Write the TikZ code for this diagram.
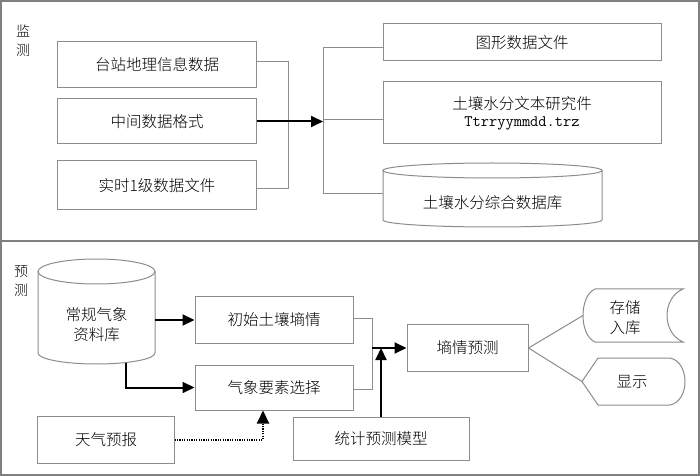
\documentclass[tikz,border=0pt]{standalone}
\usepackage{fontspec}
\setmainfont{Noto Sans CJK SC}[UprightFont=* Light]
\usetikzlibrary{arrows.meta,calc}
\definecolor{boxgray}{RGB}{140,140,140}
\definecolor{framegray}{RGB}{128,128,128}
\newcommand\myfs{\fontsize{15.5bp}{20bp}\selectfont}
\begin{document}
\begin{tikzpicture}[x=1bp,y=-1bp,
  box/.style={draw=boxgray,line width=1bp,inner sep=0pt,align=center,font=\myfs},
  plain/.style={inner sep=0pt,align=center,font=\myfs},
  lab/.style={inner sep=0pt,align=center,font=\fontsize{14bp}{19bp}\selectfont},
  thin/.style={draw=boxgray,line width=1bp},
  arr/.style={draw=black,line width=2bp,-{Triangle[length=12bp,width=11bp]}},
  dotarr/.style={draw=black,line width=2bp,dash pattern=on 1.2bp off 1.2bp,-{Triangle[length=13bp,width=12bp]}}]
\fill[white] (0,0) rectangle (700,476);
\useasboundingbox (0,0) rectangle (700,476);
% frame
\draw[framegray,line width=1.5bp] (1,1) rectangle (699,475);
\draw[framegray,line width=1.5bp] (1,241) -- (699,241);
\node[lab] (lm) at (23,41) {监\\测};
\node[lab] (lp) at (21,281) {预\\测};
% top panel
\node[box,minimum width=198bp,minimum height=46bp] (n1) at (157,65) {台站地理信息数据};
\node[box,minimum width=198bp,minimum height=45bp] (n2) at (157,121.5) {中间数据格式};
\node[box,minimum width=198bp,minimum height=49bp] (n3) at (157,185.5) {实时1级数据文件};
\node[box,minimum width=278bp,minimum height=37bp] (r1) at (522,42.5) {图形数据文件};
\node[box,minimum width=278bp,minimum height=62bp] (r2) at (522,113) {土壤水分文本研究件\\[-3bp]{\ttfamily\fontsize{16bp}{17bp}\selectfont Ttrryymmdd.trz}};
\node[minimum width=219bp,minimum height=64bp,inner sep=0pt] (r3) at (492.5,195) {};
\node[plain] (r3t) at (492.5,203) {土壤水分综合数据库};
\draw[thin] (492.5,170.5) ellipse[x radius=109.5,y radius=7.5];
\draw[thin] (383,170.5) -- (383,220) arc[start angle=180,end angle=0,x radius=109.5,y radius=7] -- (602,170.5);
\coordinate (k1) at (288,62);
\coordinate (k2) at (288,189);
\draw[thin] (n1.east|-k1) -- (k1) -- (k2) -- (n3.east|-k2);
\coordinate (j1) at (323,48);
\coordinate (j2) at (323,120);
\coordinate (j3) at (323,194);
\draw[thin] (j1) -- (j3);
\draw[thin] (j1) -- (r1.west|-j1);
\draw[thin] (j2) -- (r2.west|-j2);
\draw[thin] (j3) -- (r3.west|-j3);
\draw[arr] (n2.east) -- (j2|-n2.east);
% bottom panel
\node[minimum width=117bp,minimum height=105bp,inner sep=0pt] (c1) at (96.5,311.5) {};
\node[plain] (c1t) at (96.5,325) {常规气象\\资料库};
\draw[thin] (96.5,271.5) ellipse[x radius=58.5,y radius=12.5];
\draw[thin] (38,271.5) -- (38,353) arc[start angle=180,end angle=0,x radius=58.5,y radius=11] -- (155,271.5);
\node[box,minimum width=158bp,minimum height=46bp] (b1) at (274,320) {初始土壤墒情};
\node[box,minimum width=158bp,minimum height=45bp] (b2) at (274,387.5) {气象要素选择};
\node[box,minimum width=136bp,minimum height=47bp] (t1) at (106,439.5) {天气预报};
\node[box,minimum width=176bp,minimum height=43bp] (s1) at (381,438.5) {统计预测模型};
\node[box,minimum width=121bp,minimum height=46bp] (p1) at (467.5,348) {墒情预测};
\draw[arr] (c1.east|-b1.west) -- (b1.west);
\draw[arr] ($(c1.south)+(29.5,-1.5)$) |- (b2.west);
\draw[dotarr] (t1.east) -| ($(b2.south)+(-11,0)$);
\coordinate (q1) at (372,319);
\coordinate (q2) at (372,389);
\coordinate (q0) at (372,348);
\draw[thin] (b1.east|-q1) -- (q1) -- (q2) -- (b2.east|-q2);
\draw[arr] (q0) -- (p1.west);
\draw[arr] (s1.north) -- (s1.north|-q0);
% outputs
\node[plain] (st1) at (625,318) {存储\\入库};
\draw[thin] (595,289) -- (683,289) .. controls (661.7,298) and (661.7,333) .. (683,342) -- (595,342) .. controls (579,335) and (579,296) .. (595,289);
\coordinate (st1w) at (583,315.5);
\node[plain] (d1) at (632,382) {显示};
\draw[thin] (598,358) -- (670,358) .. controls (690,362) and (690,401) .. (670,405) -- (598,405) -- (582,381.5) -- cycle;
\coordinate (d1w) at (582,381.5);
\draw[thin] (p1.east) -- (st1w);
\draw[thin] (p1.east) -- (d1w);
\end{tikzpicture}
\end{document}
